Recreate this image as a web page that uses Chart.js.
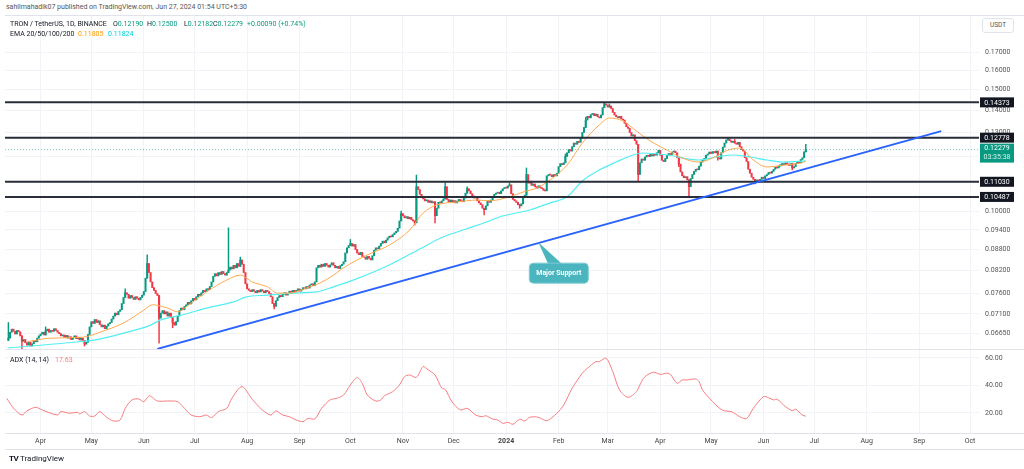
<!DOCTYPE html>
<html>
<head>
<meta charset="utf-8">
<script src="https://cdn.jsdelivr.net/npm/chart.js@4.4.1/dist/chart.umd.min.js"></script>
<style>
html, body { margin: 0; padding: 0; background: #fff; }
body { width: 1024px; height: 469px; position: relative; overflow: hidden; font-family: Roboto, "Noto Sans", sans-serif; color: #131722; }
.t { position: absolute; white-space: nowrap; font-size: 7px; line-height: 9px; }
#pricebox { position: absolute; left: 0; top: 15px; width: 1024px; height: 334px; }
#adxbox { position: absolute; left: 0; top: 349px; width: 1024px; height: 100px; }
.hl { position: absolute; background: #e0e3eb; }
#usdt { position: absolute; left: 982px; top: 18px; width: 30px; height: 13px; border: 1px solid #e0e3eb; border-radius: 3px; font-size: 6.5px; line-height: 13px; text-align: center; color: #555; background: #fff; }
</style>
</head>
<body>
<div id="pricebox"><canvas id="priceChart"></canvas></div>
<div id="adxbox"><canvas id="adxChart"></canvas></div>
<div class="hl" style="left:5px;top:349px;width:1019px;height:1px"></div>
<div class="hl" style="left:5px;top:433px;width:1019px;height:1px"></div>
<div class="hl" style="left:5px;top:449px;width:1019px;height:1px"></div>
<div class="hl" style="left:5px;top:15px;width:1019px;height:1px"></div>

<div class="t" style="left:6px;top:3px;color:#555">sahilmahadik07 published on TradingView.com, Jun 27, 2024 01:54 UTC+5:30</div>
<div class="t" style="left:10px;top:20px">TRON / TetherUS, 1D, BINANCE</div>
<div class="t" style="left:113px;top:20px">O<span style="color:#089981">0.12190</span></div>
<div class="t" style="left:147px;top:20px">H<span style="color:#089981">0.12500</span></div>
<div class="t" style="left:184px;top:20px">L<span style="color:#089981">0.12182</span></div>
<div class="t" style="left:213px;top:20px">C<span style="color:#089981">0.12279</span></div>
<div class="t" style="left:247px;top:20px;color:#089981">+0.00090 (+0.74%)</div>
<div class="t" style="left:10px;top:30px">EMA 20/50/100/200</div>
<div class="t" style="left:78px;top:30px;color:#ff9800">0.11805</div>
<div class="t" style="left:108px;top:30px;color:#00d0dc">0.11824</div>
<div id="usdt">USDT</div>
<div class="t" style="left:10px;top:356px">ADX (14, 14)</div>
<div class="t" style="left:55px;top:356px;color:#f77c80">17.63</div>
<div class="t" style="left:9px;top:454px;font-size:8px"><b style="letter-spacing:-0.5px">TV</b> TradingView</div>

<script>
// daily candles TRX/USDT, first bar 2023-03-13, last 2024-06-26
const firstOpen = 0.0650;
const closes = [
  0.0655,0.0668,0.0675,0.0670,0.0664,0.0672,0.0669,0.0660,0.0648,0.0652,
  0.0645,0.0640,0.0646,0.0638,0.0643,0.0650,0.0647,0.0655,0.0660,0.0664,
  0.0668,0.0662,0.0671,0.0675,0.0668,0.0672,0.0670,0.0676,0.0672,0.0668,
  0.0665,0.0660,0.0662,0.0657,0.0661,0.0655,0.0658,0.0652,0.0656,0.0660,
  0.0654,0.0657,0.0651,0.0655,0.0650,0.0642,0.0646,0.0663,0.0680,0.0692,
  0.0688,0.0697,0.0690,0.0694,0.0685,0.0680,0.0684,0.0676,0.0682,0.0687,
  0.0690,0.0698,0.0705,0.0712,0.0708,0.0716,0.0720,0.0735,0.0750,0.0762,
  0.0758,0.0748,0.0755,0.0750,0.0745,0.0752,0.0748,0.0744,0.0750,0.0756,
  0.0765,0.0800,0.0840,0.0815,0.0790,0.0775,0.0768,0.0760,0.0755,0.0700,
  0.0712,0.0718,0.0710,0.0715,0.0705,0.0712,0.0702,0.0690,0.0684,0.0692,
  0.0705,0.0718,0.0724,0.0720,0.0728,0.0732,0.0738,0.0734,0.0742,0.0748,
  0.0744,0.0752,0.0758,0.0755,0.0762,0.0768,0.0765,0.0772,0.0770,0.0778,
  0.0790,0.0805,0.0812,0.0806,0.0815,0.0810,0.0818,0.0812,0.0808,0.0815,
  0.0822,0.0830,0.0825,0.0835,0.0828,0.0840,0.0832,0.0850,0.0838,0.0815,
  0.0785,0.0772,0.0768,0.0765,0.0770,0.0766,0.0762,0.0768,0.0764,0.0770,
  0.0766,0.0762,0.0768,0.0765,0.0760,0.0752,0.0735,0.0728,0.0742,0.0750,
  0.0755,0.0752,0.0758,0.0762,0.0756,0.0760,0.0766,0.0762,0.0768,0.0764,
  0.0768,0.0772,0.0766,0.0770,0.0775,0.0772,0.0778,0.0774,0.0782,0.0785,
  0.0780,0.0790,0.0828,0.0835,0.0830,0.0838,0.0832,0.0840,0.0835,0.0830,
  0.0836,0.0842,0.0835,0.0828,0.0832,0.0826,0.0834,0.0838,0.0845,0.0870,
  0.0885,0.0892,0.0898,0.0890,0.0895,0.0880,0.0870,0.0865,0.0872,0.0860,
  0.0858,0.0852,0.0860,0.0855,0.0850,0.0862,0.0878,0.0885,0.0882,0.0890,
  0.0898,0.0905,0.0900,0.0908,0.0915,0.0920,0.0918,0.0925,0.0930,0.0935,
  0.0945,0.0968,0.0992,0.0985,0.0978,0.0982,0.0975,0.0980,0.0972,0.0968,
  0.0962,0.1085,0.1075,0.1058,0.1050,0.1042,0.1035,0.1038,0.1030,0.1035,
  0.1028,0.1032,0.0985,0.1010,0.1030,0.1028,0.1035,0.1042,0.1085,0.1040,
  0.1032,0.1038,0.1030,0.1036,0.1028,0.1034,0.1040,0.1035,0.1032,0.1045,
  0.1062,0.1078,0.1070,0.1060,0.1052,0.1045,0.1050,0.1035,0.1028,0.1022,
  0.1010,0.1005,0.1018,0.1035,0.1030,0.1038,0.1050,0.1058,0.1062,0.1065,
  0.1060,0.1070,0.1078,0.1082,0.1080,0.1088,0.1092,0.1060,0.1040,0.1035,
  0.1030,0.1022,0.1018,0.1025,0.1048,0.1055,0.1130,0.1098,0.1105,0.1090,
  0.1095,0.1085,0.1080,0.1088,0.1082,0.1078,0.1072,0.1070,0.1125,0.1130,
  0.1128,0.1122,0.1130,0.1125,0.1135,0.1160,0.1172,0.1168,0.1175,0.1200,
  0.1215,0.1228,0.1222,0.1240,0.1255,0.1250,0.1262,0.1258,0.1275,0.1300,
  0.1322,0.1355,0.1372,0.1365,0.1380,0.1385,0.1375,0.1382,0.1370,0.1365,
  0.1378,0.1412,0.1430,0.1425,0.1415,0.1420,0.1408,0.1390,0.1378,0.1370,
  0.1365,0.1372,0.1360,0.1355,0.1340,0.1325,0.1318,0.1300,0.1285,0.1290,
  0.1265,0.1250,0.1130,0.1175,0.1190,0.1185,0.1198,0.1205,0.1200,0.1208,
  0.1202,0.1210,0.1205,0.1215,0.1225,0.1205,0.1185,0.1180,0.1192,0.1205,
  0.1212,0.1208,0.1218,0.1222,0.1215,0.1195,0.1170,0.1140,0.1125,0.1118,
  0.1122,0.1110,0.1085,0.1115,0.1130,0.1142,0.1150,0.1148,0.1162,0.1178,
  0.1185,0.1192,0.1205,0.1210,0.1218,0.1212,0.1220,0.1215,0.1222,0.1195,
  0.1190,0.1215,0.1238,0.1255,0.1268,0.1272,0.1265,0.1258,0.1262,0.1255,
  0.1250,0.1258,0.1240,0.1228,0.1222,0.1195,0.1180,0.1150,0.1135,0.1120,
  0.1112,0.1105,0.1110,0.1102,0.1112,0.1120,0.1115,0.1125,0.1130,0.1138,
  0.1135,0.1142,0.1150,0.1158,0.1155,0.1162,0.1168,0.1172,0.1168,0.1175,
  0.1170,0.1165,0.1172,0.1155,0.1160,0.1172,0.1178,0.1175,0.1188,0.1195,
  0.1219,0.12279
];
// wicks that stick out of the bodies: [bar index, price]
const wickHighs = [[0,0.0690],[22,0.0680],[69,0.0772],[82,0.0865],[130,0.0946],[137,0.0858],[202,0.0910],
  [232,0.1000],[241,0.1128],[258,0.1100],[271,0.1085],[296,0.1098],[306,0.1155],[329,0.1210],[341,0.1368],
  [352,0.14373],[355,0.1430],[425,0.1278],[429,0.1270],[471,0.1250]];
const wickLows = [[8,0.0632],[45,0.0638],[89,0.0644],[97,0.0678],[157,0.0722],[240,0.0955],[252,0.0962],
  [281,0.0988],[302,0.1010],[372,0.1103],[396,0.1160],[402,0.1050],[419,0.1185],[441,0.1095],[463,0.1148],[471,0.12182]];

// EMA lines read at sparse bars
const emaFastIdx = [11,25,44,54,68,80,85,94,100,105,117,129,137,144,153,159,166,176,184,192,196,206,216,225,237,245,253,265,277,284,296,304,312,320,330,339,349,355,363,371,379,389,398,408,416,425,432,440,448,458,468,471];
const emaFastVal = [0.0647,0.0655,0.0657,0.0668,0.0689,0.0719,0.0732,0.0724,0.0715,0.0727,0.0764,0.0795,0.0808,0.0790,0.0777,0.0761,0.0761,0.0774,0.0787,0.0808,0.0822,0.0850,0.0873,0.0893,0.0939,0.0994,0.1021,0.1031,0.1038,0.1035,0.1049,0.1066,0.1080,0.1110,0.1166,0.1255,0.1333,0.1364,0.1351,0.1306,0.1264,0.1226,0.1194,0.1178,0.1194,0.1226,0.1234,0.1186,0.1159,0.1166,0.1174,0.11805];
const emaSlowIdx = [0,35,54,68,84,90,103,117,133,140,153,168,182,192,202,225,245,255,265,274,284,290,308,320,330,339,349,359,369,375,389,408,418,428,438,448,457,471];
const emaSlowVal = [0.0634,0.0645,0.0653,0.0666,0.0684,0.0696,0.0708,0.0724,0.0739,0.0751,0.0756,0.0761,0.0764,0.0777,0.0792,0.0836,0.0887,0.0914,0.0933,0.0949,0.0968,0.0981,0.1004,0.1028,0.1049,0.1106,0.1147,0.1178,0.1206,0.1214,0.1206,0.1186,0.1198,0.1206,0.1198,0.1186,0.1178,0.11824];

// ADX (14, 14)
const adxIdx = [-1,3,8,11,16,20,29,31,36,41,42,45,48,51,54,58,62,66,69,73,77,80,83,85,88,94,100,104,108,113,117,120,124,129,132,138,144,150,155,158,162,166,170,174,177,181,185,190,194,198,202,206,209,212,217,220,222,227,231,234,237,241,245,248,252,256,258,262,267,271,276,280,282,286,289,292,295,298,302,305,308,313,318,324,328,333,339,342,347,349,353,357,361,366,371,373,376,381,385,389,391,395,398,401,406,408,410,416,420,423,427,432,436,440,446,449,452,454,459,463,465,469,471];
const adxVal = [30.7,23.6,18.5,21.5,24.1,22.2,18.5,21,19.8,20.5,19.3,21,17.8,17.8,21,16.9,14.2,14.9,23.4,29.5,30.2,28.2,32.4,31.4,28.7,28.7,28.2,23.4,18.5,17.3,18.5,16.6,21,23.4,30.7,39.1,30,22.2,18.5,21.5,18.5,17.3,14.9,13.7,16.1,15.6,23.4,29.5,30.7,33.1,40.4,45.7,41.6,33.1,28.7,29.5,32.4,35.5,40.4,46.4,47.6,45.9,53.7,51.3,47.6,38,37.2,28.2,22.2,23.4,18.5,17.3,18,15.6,14.9,12.5,13.2,11.8,15.4,14.2,16.9,16.9,14.4,19.8,25.8,38,48.9,52.5,57.3,57.3,59.8,50,36.7,31.4,35.5,40.4,46.4,49.6,48.1,48.9,48.1,41.6,44,44,44.7,42.8,36.7,28.2,23.4,21.5,21,17.3,15.9,23.4,31.9,31.1,29.5,30,24.6,21.7,22.7,18.5,17.63];

// drawn levels and trend line
const levels = [0.14373, 0.12778, 0.11030, 0.10487];
const trendIdx = [88, 551];
const trendVal = [0.0632, 0.1306];
const calloutAt = [313, 0.0902];
const calloutText = 'Major Support';
const countdown = '03:35:38';

// axes
const priceTicks = [0.0665, 0.071, 0.076, 0.082, 0.088, 0.094, 0.10, 0.11, 0.12, 0.13, 0.14, 0.15, 0.16, 0.17];
const adxTicks = [20, 40, 60];
const monthIdx = [19, 49, 80, 110, 141, 172, 202, 233, 263, 294, 325, 354, 385, 415, 446, 476, 507, 538, 568];
const monthLabels = ['Apr','May','Jun','Jul','Aug','Sep','Oct','Nov','Dec','2024','Feb','Mar','Apr','May','Jun','Jul','Aug','Sep','Oct'];
const xMin = -2, xMax = 573.3;

const UP = '#089981', DOWN = '#f23645';
const GRID = '#f2f3f6';
const FONT = 'Roboto, "Noto Sans", sans-serif';

const opens = closes.map((c, i) => i === 0 ? firstOpen : closes[i - 1]);
const candleColor = closes.map((c, i) => c >= opens[i] ? UP : DOWN);
const lastClose = closes[closes.length - 1];

const hiMap = new Map(wickHighs), loMap = new Map(wickLows);
const wickBars = [...new Set([...hiMap.keys(), ...loMap.keys()])].sort((a, b) => a - b);
const wickData = wickBars.map(i => ({
    x: i,
    y: [loMap.get(i) ?? Math.min(opens[i], closes[i]), hiMap.get(i) ?? Math.max(opens[i], closes[i])]
}));

const xy = (xs, ys) => xs.map((x, k) => ({x: x, y: ys[k]}));

// keep the plot area exactly on the pane: no extra room for edge tick labels
const noPad = s => { s.paddingTop = 0; s.paddingBottom = 0; s.paddingLeft = 0; s.paddingRight = 0; };

const overlay = {
    id: 'overlay',
    afterDraw(chart) {
        const ctx = chart.ctx, y = chart.scales.y, x = chart.scales.x;
        ctx.save();
        ctx.font = '7px ' + FONT;
        ctx.textAlign = 'center';
        ctx.textBaseline = 'middle';
        levels.forEach(lv => {
            const py = y.getPixelForValue(lv);
            ctx.fillStyle = '#131722';
            ctx.fillRect(980, py - 5, 34, 10);
            ctx.fillStyle = '#fff';
            ctx.fillText(lv.toFixed(5), 997, py + 0.5);
        });
        const cy = y.getPixelForValue(lastClose);
        ctx.fillStyle = UP;
        ctx.fillRect(980, cy - 6, 34, 19);
        ctx.fillStyle = '#fff';
        ctx.fillText(lastClose.toFixed(5), 997, cy - 1);
        ctx.fillStyle = '#d7f0ea';
        ctx.fillText(countdown, 997, cy + 7.5);

        // callout
        const ax = x.getPixelForValue(calloutAt[0]), ay = y.getPixelForValue(calloutAt[1]);
        ctx.fillStyle = '#4ab5be';
        ctx.strokeStyle = '#7fcdd3';
        ctx.lineWidth = 1;
        ctx.beginPath();
        ctx.moveTo(ax, ay);
        ctx.lineTo(ax + 10, ay + 22);
        ctx.lineTo(ax + 24, ay + 22);
        ctx.closePath();
        ctx.fill();
        ctx.beginPath();
        ctx.roundRect(ax - 9, ay + 21, 59, 20, 4);
        ctx.fill();
        ctx.stroke();
        ctx.fillStyle = '#fff';
        ctx.font = 'bold 7px ' + FONT;
        ctx.fillText(calloutText, ax + 20.5, ay + 31.5);
        ctx.restore();
    }
};

new Chart(document.getElementById('priceChart'), {
    type: 'bar',
    data: {
        datasets: [
            {type: 'line', data: xy(trendIdx, trendVal), borderColor: '#2962ff', borderWidth: 2, pointRadius: 0, order: 1},
            ...levels.map(lv => ({type: 'line', data: [{x: xMin, y: lv}, {x: xMax, y: lv}], borderColor: '#2a2e39', borderWidth: 2, pointRadius: 0, order: 2})),
            {type: 'line', data: [{x: xMin, y: lastClose}, {x: xMax, y: lastClose}], borderColor: 'rgba(8,153,129,0.5)', borderWidth: 1, borderDash: [1, 2], pointRadius: 0, order: 3},
            {type: 'line', data: xy(emaFastIdx, emaFastVal), borderColor: '#ffa94d', borderWidth: 1, pointRadius: 0, cubicInterpolationMode: 'monotone', order: 4},
            {type: 'line', data: xy(emaSlowIdx, emaSlowVal), borderColor: '#52eef2', borderWidth: 1.2, pointRadius: 0, cubicInterpolationMode: 'monotone', order: 5},
            {data: closes.map((c, i) => ({x: i, y: [opens[i], c]})), backgroundColor: candleColor, barThickness: 1.4, minBarLength: 1, grouped: false, order: 6},
            {data: wickData, backgroundColor: wickBars.map(i => candleColor[i]), barThickness: 0.8, grouped: false, order: 7}
        ]
    },
    options: {
        animation: false,
        responsive: true,
        maintainAspectRatio: false,
        events: [],
        layout: {padding: {left: 5, right: 0, top: 0, bottom: 0}},
        plugins: {legend: {display: false}, tooltip: {enabled: false}},
        scales: {
            x: {
                type: 'linear', min: xMin, max: xMax, bounds: 'data', offset: false,
                afterBuildTicks: s => { s.ticks = monthIdx.map(v => ({value: v})); },
                afterFit: s => { s.height = 0; noPad(s); },
                ticks: {display: false},
                grid: {color: GRID, drawTicks: false, offset: false},
                border: {display: false}
            },
            y: {
                type: 'logarithmic', position: 'right', min: 0.06317, max: 0.19232, bounds: 'data',
                afterBuildTicks: s => { s.ticks = priceTicks.map(v => ({value: v})); },
                afterFit: s => { s.width = 45; noPad(s); },
                ticks: {padding: 6, color: '#555', font: {family: FONT, size: 7}, callback: v => Number(v).toFixed(5)},
                grid: {color: GRID, drawTicks: false},
                border: {display: false}
            }
        }
    },
    plugins: [overlay]
});

new Chart(document.getElementById('adxChart'), {
    type: 'line',
    data: {
        datasets: [
            {data: xy(adxIdx, adxVal), borderColor: '#f77c80', borderWidth: 1, pointRadius: 0, tension: 0.3}
        ]
    },
    options: {
        animation: false,
        responsive: true,
        maintainAspectRatio: false,
        events: [],
        layout: {padding: {left: 5, right: 0, top: 0, bottom: 0}},
        plugins: {legend: {display: false}, tooltip: {enabled: false}},
        scales: {
            x: {
                type: 'linear', min: xMin, max: xMax, bounds: 'data', offset: false,
                afterBuildTicks: s => { s.ticks = monthIdx.map(v => ({value: v})); },
                afterFit: s => { s.height = 16; noPad(s); },
                ticks: {
                    autoSkip: false, maxRotation: 0, padding: 4, color: '#444',
                    font: ctx => ({family: FONT, size: 7, weight: (ctx.tick && ctx.tick.label === '2024') ? 'bold' : 'normal'}),
                    callback: (v, i) => monthLabels[i]
                },
                grid: {color: GRID, drawTicks: false},
                border: {display: false}
            },
            y: {
                position: 'right', min: 5.45, max: 66.5, bounds: 'data',
                afterBuildTicks: s => { s.ticks = adxTicks.map(v => ({value: v})); },
                afterFit: s => { s.width = 45; noPad(s); },
                ticks: {padding: 6, color: '#555', font: {family: FONT, size: 7}, callback: v => Number(v).toFixed(2)},
                grid: {color: GRID, drawTicks: false},
                border: {display: false}
            }
        }
    }
});
</script>
</body>
</html>
